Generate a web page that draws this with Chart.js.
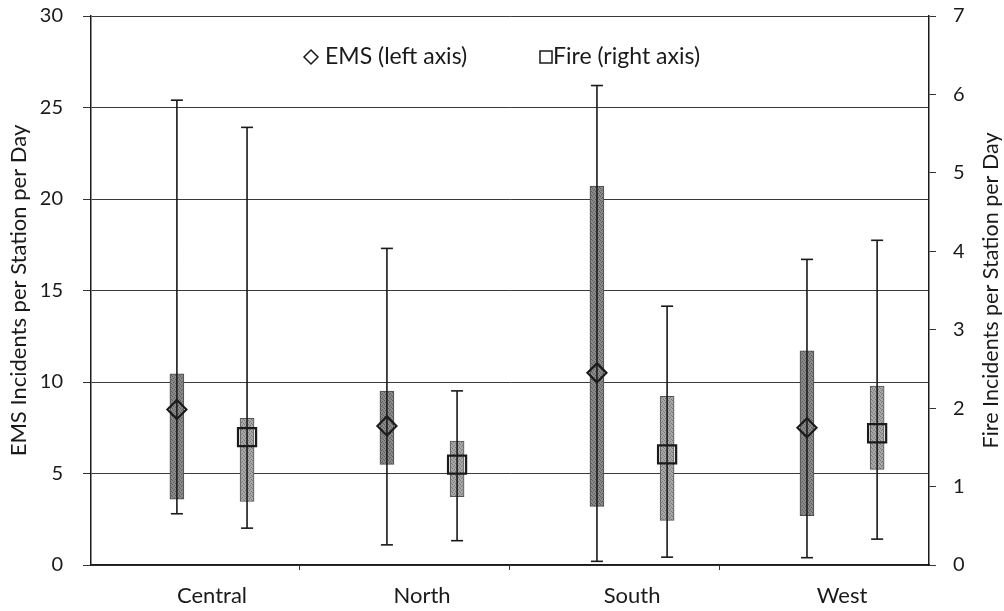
<!DOCTYPE html>
<html>
<head>
<meta charset="utf-8">
<script src="https://cdn.jsdelivr.net/npm/chart.js@4.4.0/dist/chart.umd.min.js"></script>
<style>
  html, body { margin: 0; padding: 0; background: #fff; }
</style>
</head>
<body>
<canvas id="chart" width="1004" height="611"></canvas>
<script>
// Categories and values
const categories = ['Central', 'North', 'South', 'West'];

// EMS incidents per station per day (left axis)
const emsMin  = [2.8, 1.1, 0.2, 0.4];
const emsLow  = [3.6, 5.5, 3.2, 2.7];
const emsMean = [8.5, 7.6, 10.5, 7.5];
const emsHigh = [10.45, 9.5, 20.7, 11.7];
const emsMax  = [25.4, 17.3, 26.2, 16.7];

// Fire incidents per station per day (right axis)
const fireMin  = [0.47, 0.31, 0.10, 0.33];
const fireLow  = [0.81, 0.87, 0.57, 1.22];
const fireMean = [1.63, 1.28, 1.41, 1.68];
const fireHigh = [1.87, 1.58, 2.15, 2.28];
const fireMax  = [5.58, 2.22, 3.30, 4.14];

const leftTicks = [0, 5, 10, 15, 20, 25, 30];
const rightTicks = [0, 1, 2, 3, 4, 5, 6, 7];

// layout: where each series sits inside its category slot
const EMS_OFF = -0.167;
const FIRE_OFF = 0.167;
const BOUNDARY_OFF = 0.417;
const FONT = 'Lato';
const INK = '#1a1a1a';
const RIGHT_TITLE = 'Fire Incidents per Station per Day';

function boxes(off, lo, hi) {
  return categories.map((c, i) => ({ x: i + off, y: [lo[i], hi[i]] }));
}
function whiskers(off, lo, hi) {
  const pts = [];
  categories.forEach((c, i) => {
    pts.push({ x: i + off, y: lo[i] }, { x: i + off, y: hi[i] }, { x: i + off, y: null });
  });
  return pts;
}
function marks(off, vals) {
  return categories.map((c, i) => ({ x: i + off, y: vals[i] }));
}
function stipple(base, dot) {
  const c = document.createElement('canvas');
  c.width = 4; c.height = 4;
  const g = c.getContext('2d');
  g.fillStyle = base; g.fillRect(0, 0, 4, 4);
  g.fillStyle = dot;
  g.fillRect(0, 0, 1, 1); g.fillRect(2, 1, 1, 1); g.fillRect(1, 2, 1, 1); g.fillRect(3, 3, 1, 1);
  return g.createPattern(c, 'repeat');
}
function isCategoryTick(ctx) {
  return ctx && ctx.tick && Number.isInteger(ctx.tick.value);
}
// pin the plot area: fixed axis sizes, no label overhang padding
function fixVertical(width) {
  return s => { s.width = width; s.paddingTop = 16; s.paddingBottom = 0; };
}

// legend drawn inside the plot area, plus the right axis title read bottom-to-top
const extras = {
  id: 'extras',
  afterDraw(chart) {
    const { ctx, chartArea } = chart;
    const y = chartArea.top + 41;
    ctx.save();
    ctx.font = '23px ' + FONT;
    ctx.fillStyle = INK;
    ctx.strokeStyle = INK;
    ctx.lineWidth = 1.5;
    ctx.textBaseline = 'middle';
    // EMS diamond
    let x = 311;
    ctx.beginPath();
    ctx.moveTo(x, y - 7); ctx.lineTo(x + 7, y); ctx.lineTo(x, y + 7); ctx.lineTo(x - 7, y); ctx.closePath();
    ctx.stroke();
    ctx.fillText(chart.data.datasets[4].label, x + 14, y);
    // Fire square
    x = 546;
    ctx.strokeRect(x - 6, y - 6, 12, 12);
    ctx.fillText(chart.data.datasets[5].label, x + 7, y);
    // right axis title
    ctx.font = '21.5px ' + FONT;
    ctx.textAlign = 'center';
    ctx.translate(chartArea.right + 62, (chartArea.top + chartArea.bottom) / 2);
    ctx.rotate(-Math.PI / 2);
    ctx.fillText(RIGHT_TITLE, 0, 0);
    ctx.restore();
  }
};

new Chart(document.getElementById('chart'), {
  type: 'bar',
  data: {
    datasets: [
      { type: 'bar', label: 'EMS range', data: boxes(EMS_OFF, emsLow, emsHigh), yAxisID: 'y', grouped: false, barThickness: 14,
        backgroundColor: stipple('#8a8a8a', '#595959'), borderColor: '#4a4a4a', borderWidth: 1, borderSkipped: false, order: 2 },
      { type: 'bar', label: 'Fire range', data: boxes(FIRE_OFF, fireLow, fireHigh), yAxisID: 'y2', grouped: false, barThickness: 14,
        backgroundColor: stipple('#a8a8a8', '#747474'), borderColor: '#555555', borderWidth: 1, borderSkipped: false, order: 2 },
      { type: 'line', label: 'EMS min-max', data: whiskers(EMS_OFF, emsMin, emsMax), yAxisID: 'y', borderColor: INK, borderWidth: 1.6,
        pointStyle: 'line', pointRadius: 6, pointBorderWidth: 1.6, pointBorderColor: INK, fill: false, spanGaps: false, order: 1 },
      { type: 'line', label: 'Fire min-max', data: whiskers(FIRE_OFF, fireMin, fireMax), yAxisID: 'y2', borderColor: INK, borderWidth: 1.6,
        pointStyle: 'line', pointRadius: 6, pointBorderWidth: 1.6, pointBorderColor: INK, fill: false, spanGaps: false, order: 1 },
      { type: 'scatter', label: 'EMS (left axis)', data: marks(EMS_OFF, emsMean), yAxisID: 'y', pointStyle: 'rectRot', pointRadius: 9.5,
        borderColor: INK, borderWidth: 2.2, backgroundColor: 'rgba(0,0,0,0)', order: 0 },
      { type: 'scatter', label: 'Fire (right axis)', data: marks(FIRE_OFF, fireMean), yAxisID: 'y2', pointStyle: 'rect', pointRadius: 12.8,
        borderColor: INK, borderWidth: 2.2, backgroundColor: 'rgba(0,0,0,0)', order: 0 },
    ],
  },
  options: {
    responsive: false,
    animation: false,
    devicePixelRatio: 1,
    layout: { padding: 0 },
    plugins: { legend: { display: false }, tooltip: { enabled: false } },
    scales: {
      x: {
        type: 'linear',
        offset: false,
        min: -0.576,
        max: 3.414,
        afterFit: s => { s.height = 46; s.paddingLeft = 0; s.paddingRight = 0; },
        afterBuildTicks: axis => {
          const t = [];
          categories.forEach((c, i) => { t.push({ value: i }); if (i < categories.length - 1) t.push({ value: i + BOUNDARY_OFF }); });
          axis.ticks = t;
        },
        ticks: {
          autoSkip: false, maxRotation: 0, padding: 13, color: INK, font: { family: FONT, size: 22 },
          callback: v => Number.isInteger(v) ? categories[v] : '',
        },
        grid: { offset: false, drawOnChartArea: false, tickLength: 5, tickWidth: 1, tickColor: ctx => isCategoryTick(ctx) ? 'rgba(0,0,0,0)' : '#333' },
        border: { display: true, color: INK, width: 1.5 },
      },
      y: {
        position: 'left',
        min: 0, max: 30,
        afterFit: fixVertical(91),
        afterBuildTicks: axis => { axis.ticks = leftTicks.map(v => ({ value: v })); },
        ticks: { padding: 20, color: INK, font: { family: FONT, size: 20 } },
        grid: { color: '#3a3a3a', lineWidth: 1, tickLength: 8, tickColor: '#333' },
        border: { display: true, color: INK, width: 1.5 },
        title: { display: true, text: 'EMS Incidents per Station per Day', color: INK, font: { family: FONT, size: 22 }, padding: { top: 6, bottom: 0 } },
      },
      y2: {
        position: 'right',
        min: 0, max: 7,
        afterFit: fixVertical(75),
        afterBuildTicks: axis => { axis.ticks = rightTicks.map(v => ({ value: v })); },
        ticks: { padding: 17, color: INK, font: { family: FONT, size: 20 } },
        grid: { drawOnChartArea: false, tickLength: 7, tickColor: '#333' },
        border: { display: true, color: INK, width: 1.5 },
      },
    },
  },
  plugins: [extras],
});
</script>
</body>
</html>
